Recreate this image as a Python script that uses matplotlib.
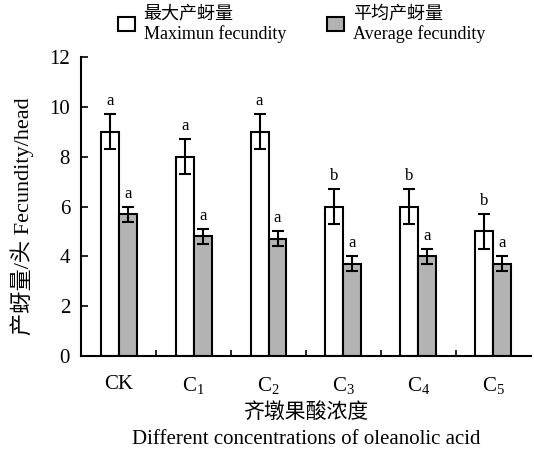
import matplotlib.pyplot as plt
from matplotlib.patches import Patch
import numpy as np

plt.rcParams['font.family'] = ['Liberation Serif', 'Noto Sans CJK SC']
plt.rcParams['mathtext.fontset'] = 'custom'
plt.rcParams['mathtext.rm'] = 'Liberation Serif'
plt.rcParams['mathtext.it'] = 'Liberation Serif'

groups = ['CK', 'C$_1$', 'C$_2$', 'C$_3$', 'C$_4$', 'C$_5$']
max_val = [9, 8, 9, 6, 6, 5]
max_err = [0.7, 0.7, 0.7, 0.7, 0.7, 0.7]
max_sig = ['a', 'a', 'a', 'b', 'b', 'b']
avg_val = [5.7, 4.8, 4.7, 3.7, 4.0, 3.7]
avg_err = [0.3, 0.3, 0.3, 0.3, 0.3, 0.3]
avg_sig = ['a', 'a', 'a', 'a', 'a', 'a']

fig = plt.figure(figsize=(5.34, 4.54), dpi=100)
ax = fig.add_axes([0.152, 0.216, 0.842, 0.658])

x = np.arange(len(groups))
w = 0.24
ekw = dict(ecolor='black', elinewidth=1.5, capsize=4, capthick=1.5)
ax.bar(x - w / 2, max_val, w, yerr=max_err, color='white', edgecolor='black',
       linewidth=1.5, error_kw=ekw)
ax.bar(x + w / 2, avg_val, w, yerr=avg_err, color='#b3b3b3', edgecolor='black',
       linewidth=1.5, error_kw=ekw)

for i in range(len(groups)):
    ax.text(x[i] - w / 2, max_val[i] + max_err[i] + 0.2, max_sig[i],
            ha='center', va='bottom', fontsize=12)
    ax.text(x[i] + w / 2, avg_val[i] + avg_err[i] + 0.2, avg_sig[i],
            ha='center', va='bottom', fontsize=12)

ax.set_xlim(-0.5, 5.5)
ax.set_ylim(0, 12)
ax.set_yticks(range(0, 13, 2))
ax.set_xticks(x)
ax.set_xticklabels(groups, fontsize=15)
ax.set_xticks(np.arange(0.5, 5.5, 1), minor=True)
ax.tick_params(axis='x', which='major', length=0, pad=14)
ax.tick_params(axis='x', which='minor', direction='in', length=4, width=1.2)
ax.tick_params(axis='y', direction='in', length=5, width=1.2, labelsize=15, pad=8)
for s in ['top', 'right']:
    ax.spines[s].set_visible(False)
for s in ['left', 'bottom']:
    ax.spines[s].set_linewidth(1.5)

ax.set_ylabel('产蚜量/头 Fecundity/head', fontsize=16)
ax.yaxis.set_label_coords(-0.104, 0.468)
ax.set_xlabel('齐墩果酸浓度\nDifferent concentrations of oleanolic acid',
              fontsize=15, linespacing=1.5, labelpad=5)

handles = [Patch(facecolor='white', edgecolor='black', linewidth=1.5),
           Patch(facecolor='#b3b3b3', edgecolor='black', linewidth=1.5)]
fig.legend(handles, ['最大产蚜量\nMaximun fecundity', '平均产蚜量\nAverage fecundity'],
           loc='upper center', bbox_to_anchor=(0.565, 1.025), ncol=2, frameon=False,
           fontsize=13, handlelength=0.9, handleheight=0.9, columnspacing=2.3,
           handletextpad=0.5, labelspacing=0.25)

fig.savefig('out.png', dpi=100)
